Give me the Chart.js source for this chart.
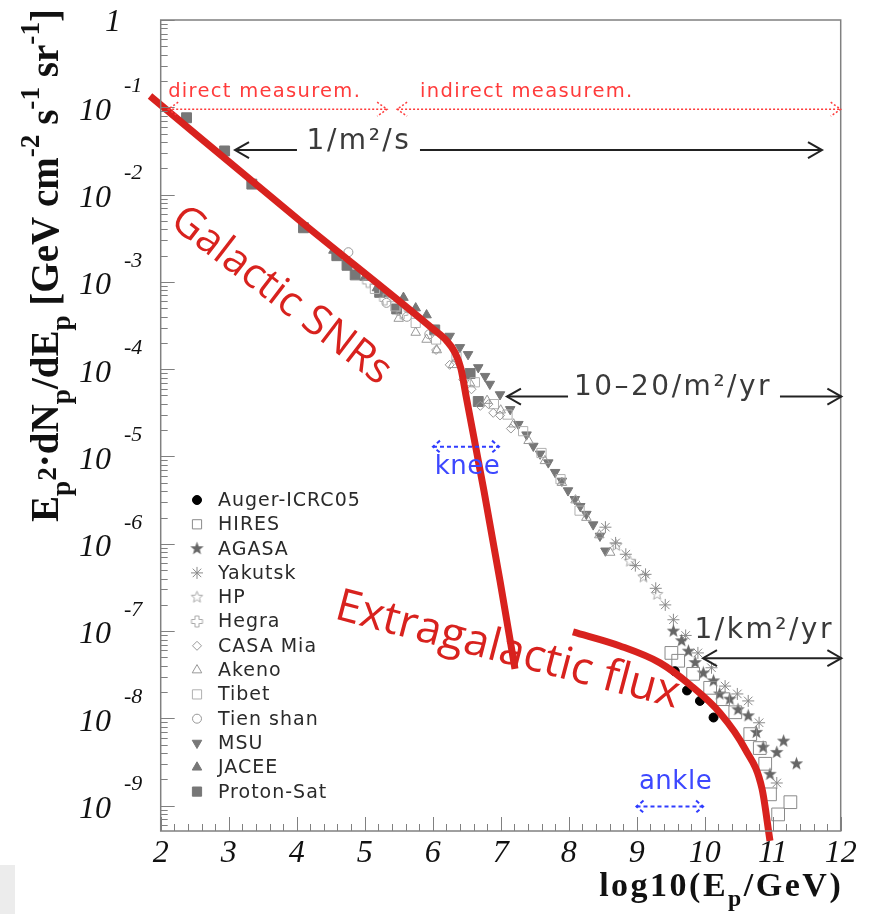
<!DOCTYPE html>
<html>
<head>
<meta charset="utf-8">
<title>Cosmic ray spectrum</title>
<script src="https://cdn.jsdelivr.net/npm/chart.js@4.4.1/dist/chart.umd.min.js"></script>
<style>
html, body { margin: 0; padding: 0; background: #fff; }
</style>
</head>
<body>
<canvas id="spectrum" width="871" height="914"></canvas>
<script>
// x = log10(E/GeV), flux arrays hold log10 of E^2 dN/dE [GeV cm^-2 s^-1 sr^-1]

const augerE = [9.56, 9.74, 9.93, 10.13];
const augerF = [-7.46, -7.68, -7.80, -7.99];

const hiresE = [9.51, 9.61, 9.83, 10.08, 10.27, 10.45, 10.67, 10.81, 10.89, 10.96, 11.26, 11.08];
const hiresF = [-7.25, -7.34, -7.49, -7.65, -7.78, -7.93, -8.18, -8.34, -8.52, -8.87, -8.96, -9.10];

const agasaE = [9.54, 9.66, 9.76, 9.86, 9.98, 10.13, 10.22, 10.37, 10.49, 10.64, 10.76, 10.86, 11.16, 11.06, 11.35, 10.96];
const agasaF = [-7.00, -7.11, -7.23, -7.36, -7.48, -7.57, -7.72, -7.78, -7.90, -7.97, -8.16, -8.33, -8.26, -8.39, -8.52, -8.64];

const yakutskE = [8.54, 8.69, 8.84, 8.98, 9.13, 9.28, 9.42, 9.54, 9.72, 9.90, 10.10, 10.30, 10.48, 10.64, 10.80, 11.06];
const yakutskF = [-5.81, -5.99, -6.12, -6.25, -6.35, -6.51, -6.70, -6.87, -7.05, -7.25, -7.42, -7.63, -7.72, -7.80, -8.05, -8.74];

const hpE = [8.70, 8.90, 9.10, 9.30];
const hpF = [-6.02, -6.20, -6.38, -6.58];

const hegraE = [5.05, 5.30, 5.55];
const hegraF = [-3.00, -3.20, -3.36];

const casaE = [6.05, 6.25, 6.45, 6.57, 6.70, 6.82, 6.89, 6.99, 7.15];
const casaF = [-3.78, -3.95, -4.12, -4.23, -4.42, -4.40, -4.50, -4.53, -4.68];

const akenoE = [5.50, 5.75, 5.91, 6.06, 6.30, 6.55, 6.80, 7.00, 7.19, 7.41, 7.65, 7.90, 8.10, 8.26, 8.45, 8.61];
const akenoF = [-3.42, -3.58, -3.66, -3.78, -3.95, -4.16, -4.36, -4.47, -4.63, -4.82, -5.05, -5.30, -5.50, -5.70, -5.90, -6.10];

const tibetE = [5.15, 5.45, 5.75, 6.05, 6.35, 6.62, 6.90, 7.10, 7.33, 7.60, 7.88, 8.16];
const tibetF = [-3.08, -3.28, -3.47, -3.66, -3.86, -4.15, -4.40, -4.52, -4.71, -4.96, -5.26, -5.62];

const tienShanE = [4.76, 5.32, 5.62, 5.95];
const tienShanF = [-2.66, -3.24, -3.40, -3.60];

const msuE = [6.25, 6.40, 6.52, 6.67, 6.77, 6.84, 6.99, 7.14, 7.26, 7.38, 7.48, 7.58, 7.70, 7.80, 7.90, 7.99, 8.09, 8.17, 8.26, 8.36, 8.46, 8.54];
const msuF = [-3.62, -3.75, -3.83, -3.98, -4.08, -4.17, -4.29, -4.46, -4.63, -4.75, -4.88, -4.97, -5.07, -5.18, -5.28, -5.39, -5.49, -5.57, -5.66, -5.78, -5.91, -6.08];

const jaceeE = [4.54, 4.76, 5.00, 5.18, 5.35, 5.57, 5.75, 5.91];
const jaceeF = [-2.64, -2.79, -2.95, -3.07, -3.14, -3.18, -3.30, -3.38];

const protonSatE = [2.38, 2.94, 3.34, 4.10, 4.59, 4.74, 4.86, 5.22, 5.47, 6.03, 6.55, 6.67];
const protonSatF = [-1.12, -1.50, -1.88, -2.38, -2.70, -2.81, -2.92, -3.12, -3.31, -3.55, -4.05, -4.37];

// model curves
const galacticE = [1.843, 4.049, 6.009, 6.206, 6.328, 6.416, 6.49, 6.754, 6.99, 7.21];
const galacticF = [-0.870, -2.301, -3.542, -3.676, -3.810, -3.997, -4.306, -5.394, -6.425, -7.433];

const extraE = [8.063, 8.754, 9.343, 9.784, 10.225, 10.593, 10.843, 10.960];
const extraF = [-7.009, -7.170, -7.364, -7.616, -7.937, -8.349, -8.807, -9.403];

// axes
const xTickValues = [2, 3, 4, 5, 6, 7, 8, 9, 10, 11, 12];
const xTickLabels = ['2', '3', '4', '5', '6', '7', '8', '9', '10', '11', '12'];
const yDecades = [-1, -2, -3, -4, -5, -6, -7, -8, -9];
const yMinExp = -9.29;

const legendNames = ['Auger-ICRC05', 'HIRES', 'AGASA', 'Yakutsk', 'HP', 'Hegra', 'CASA Mia',
  'Akeno', 'Tibet', 'Tien shan', 'MSU', 'JACEE', 'Proton-Sat'];

function pts(es, fs) {
  return es.map((e, i) => ({ x: e, y: Math.pow(10, fs[i]) }));
}

function markCanvas(size, paint) {
  const c = document.createElement('canvas');
  c.width = c.height = size;
  paint(c.getContext('2d'), size / 2);
  return c;
}
function starPath(g, c, ro, ri) {
  g.beginPath();
  for (let k = 0; k < 10; k++) {
    const r = k % 2 ? ri : ro;
    const a = -Math.PI / 2 + k * Math.PI / 5;
    g.lineTo(c + r * Math.cos(a), c + r * Math.sin(a));
  }
  g.closePath();
}
const agasaMark = markCanvas(15, (g, c) => {
  starPath(g, c, 7, 2.9);
  g.fillStyle = '#666';
  g.fill();
});
const hpMark = markCanvas(15, (g, c) => {
  starPath(g, c, 6, 2.6);
  g.strokeStyle = '#aaa';
  g.lineWidth = 1;
  g.stroke();
});
const hegraMark = markCanvas(15, (g, c) => {
  const a = 2, b = 5.5;
  g.beginPath();
  g.moveTo(c - a, c - b); g.lineTo(c + a, c - b); g.lineTo(c + a, c - a);
  g.lineTo(c + b, c - a); g.lineTo(c + b, c + a); g.lineTo(c + a, c + a);
  g.lineTo(c + a, c + b); g.lineTo(c - a, c + b); g.lineTo(c - a, c + a);
  g.lineTo(c - b, c + a); g.lineTo(c - b, c - a); g.lineTo(c - a, c - a);
  g.closePath();
  g.strokeStyle = '#aaa';
  g.lineWidth = 1;
  g.stroke();
});

const NONE = 'rgba(0,0,0,0)';
function marks(label, es, fs, style) {
  return Object.assign({
    label: label,
    data: pts(es, fs),
    order: 1,
    borderWidth: 1,
    pointHoverRadius: 0
  }, style);
}

const dataSets = [
  marks('Auger-ICRC05', augerE, augerF, { pointStyle: 'circle', pointRadius: 4.5, backgroundColor: '#000', borderColor: '#000' }),
  marks('HIRES', hiresE, hiresF, { pointStyle: 'rect', pointRadius: 9, backgroundColor: NONE, borderColor: '#8a8a8a' }),
  marks('AGASA', agasaE, agasaF, { pointStyle: agasaMark, pointRadius: 7, backgroundColor: '#666', borderColor: '#666' }),
  marks('Yakutsk', yakutskE, yakutskF, { pointStyle: 'star', pointRadius: 6, backgroundColor: NONE, borderColor: '#8a8a8a' }),
  marks('HP', hpE, hpF, { pointStyle: hpMark, pointRadius: 6, backgroundColor: NONE, borderColor: '#aaa' }),
  marks('Hegra', hegraE, hegraF, { pointStyle: hegraMark, pointRadius: 6, backgroundColor: NONE, borderColor: '#aaa' }),
  marks('CASA Mia', casaE, casaF, { pointStyle: 'rectRot', pointRadius: 4.5, backgroundColor: NONE, borderColor: '#999' }),
  marks('Akeno', akenoE, akenoF, { pointStyle: 'triangle', pointRadius: 5.5, backgroundColor: NONE, borderColor: '#999' }),
  marks('Tibet', tibetE, tibetF, { pointStyle: 'rect', pointRadius: 6.5, backgroundColor: NONE, borderColor: '#b0b0b0' }),
  marks('Tien shan', tienShanE, tienShanF, { pointStyle: 'circle', pointRadius: 4.5, backgroundColor: NONE, borderColor: '#999' }),
  marks('MSU', msuE, msuF, { pointStyle: 'triangle', rotation: 180, pointRadius: 5.5, backgroundColor: '#777', borderColor: '#777' }),
  marks('JACEE', jaceeE, jaceeF, { pointStyle: 'triangle', pointRadius: 5.5, backgroundColor: '#777', borderColor: '#777' }),
  marks('Proton-Sat', protonSatE, protonSatF, { pointStyle: 'rect', pointRadius: 7, backgroundColor: '#777', borderColor: '#777' })
];

const RED = '#d8221e';
const curveSets = [
  { type: 'line', label: 'Galactic SNRs', data: pts(galacticE, galacticF), borderColor: RED, borderWidth: 7,
    pointRadius: 0, cubicInterpolationMode: 'monotone', clip: false, order: 0, borderCapStyle: 'butt' },
  { type: 'line', label: 'Extragalactic flux', data: pts(extraE, extraF), borderColor: RED, borderWidth: 7,
    pointRadius: 0, cubicInterpolationMode: 'monotone', clip: false, order: 0, borderCapStyle: 'butt' }
];

// annotations, placed in data coordinates (x, log10 flux)
const rateArrows = [
  { text: '1/m²/s', y: -1.49, from: 3.093, to: 11.725, gap: [4.004, 5.813], tx: 4.916, ty: -1.40 },
  { text: '10–20/m²/yr', y: -4.314, from: 7.092, to: 12.01, gap: [7.99, 11.107], tx: 9.534, ty: -4.214 },
  { text: '1/km²/yr', y: -7.31, from: 9.975, to: 12.01, gap: null, tx: 10.875, ty: -6.998 }
];
const regionArrows = [
  { text: 'direct measurem.', y: -1.022, from: 2.11, to: 5.33, tx: 2.11, ty: -0.824 },
  { text: 'indirect measurem.', y: -1.022, from: 5.476, to: 12.0, tx: 5.815, ty: -0.824 }
];
const featureMarks = [
  { text: 'knee', y: -4.887, from: 6.004, to: 6.975, tx: 6.512, ty: -5.127 },
  { text: 'ankle', y: -9.010, from: 8.997, to: 9.976, tx: 9.571, ty: -8.735 }
];
const curveLabels = [
  { text: 'Galactic SNRs', x: 3.77, y: -3.16, angle: 37.5, size: 42 },
  { text: 'Extragalactic flux', x: 7.10, y: -7.226, angle: 14.7, size: 45 }
];

const SERIF = '"Liberation Serif", "DejaVu Serif", serif';
const SANS = '"DejaVu Sans", sans-serif';

function px(chart, e, f) {
  return [chart.scales.x.getPixelForValue(e), chart.scales.y.getPixelForValue(Math.pow(10, f))];
}

function head(ctx, tx, ty, dir, len, half) {
  ctx.beginPath();
  ctx.moveTo(tx - dir * len, ty - half);
  ctx.lineTo(tx, ty);
  ctx.lineTo(tx - dir * len, ty + half);
  ctx.stroke();
}

function richRun(ctx, parts, base, weight, measureOnly) {
  let cx = 0;
  for (const [t, s, sh] of parts) {
    ctx.font = `${weight} ${base * s}px ${SERIF}`;
    if (!measureOnly) ctx.fillText(t, cx, -sh * base);
    cx += ctx.measureText(t).width;
  }
  return cx;
}

const axesPlugin = {
  id: 'axesPlugin',
  beforeDraw(chart) {
    const ctx = chart.ctx;
    ctx.save();
    ctx.fillStyle = '#fff';
    ctx.fillRect(0, 0, chart.width, chart.height);
    ctx.fillStyle = '#ececec';
    ctx.fillRect(0, 865, 15, 49);
    ctx.restore();
  },
  afterDraw(chart) {
    const ctx = chart.ctx;
    const a = chart.chartArea;
    const xs = chart.scales.x, ys = chart.scales.y;
    ctx.save();

    // frame
    ctx.strokeStyle = '#808080';
    ctx.lineWidth = 1.5;
    ctx.strokeRect(a.left, a.top, a.right - a.left, a.bottom - a.top);

    // x ticks, pointing inward
    ctx.lineWidth = 1;
    for (let k = 0; k <= 50; k++) {
      const p = Math.round(xs.getPixelForValue(2 + k * 0.2)) + 0.5;
      ctx.beginPath();
      ctx.moveTo(p, a.bottom);
      ctx.lineTo(p, a.bottom - (k % 5 === 0 ? 14 : 7));
      ctx.stroke();
    }
    // y ticks, log minors
    for (let e = -10; e <= 0; e++) {
      for (let m = 1; m <= 9; m++) {
        const v = m * Math.pow(10, e);
        if (v < ys.min || v > ys.max) continue;
        const p = Math.round(ys.getPixelForValue(v)) + 0.5;
        ctx.beginPath();
        ctx.moveTo(a.left, p);
        ctx.lineTo(a.left + (m === 1 ? 14 : 7), p);
        ctx.stroke();
      }
    }

    // tick labels
    ctx.fillStyle = '#111';
    ctx.textBaseline = 'middle';
    ctx.textAlign = 'center';
    ctx.font = `italic 32px ${SERIF}`;
    xTickValues.forEach((v, i) => {
      ctx.fillText(xTickLabels[i], xs.getPixelForValue(v), a.bottom + 23);
    });
    ctx.textAlign = 'right';
    ctx.fillText('1', 121, ys.getPixelForValue(1) + 3);
    yDecades.forEach(d => {
      const p = ys.getPixelForValue(Math.pow(10, d));
      ctx.textAlign = 'right';
      ctx.font = `italic 32px ${SERIF}`;
      ctx.fillText('10', 111, p + 4);
      ctx.textAlign = 'left';
      ctx.font = `italic 22px ${SERIF}`;
      ctx.fillText('-' + (-d), 124, p - 21);
    });

    // axis titles
    ctx.textBaseline = 'alphabetic';
    ctx.textAlign = 'left';
    ctx.letterSpacing = '2.5px';
    const xt = [['log10(E', 1, 0], ['p', 0.7, -0.3], ['/GeV)', 1, 0]];
    const xw = richRun(ctx, xt, 34, 'bold', true);
    ctx.save();
    ctx.translate(a.right - xw + 2.5, 896);
    richRun(ctx, xt, 34, 'bold', false);
    ctx.restore();
    ctx.letterSpacing = '0px';

    const yt = [['E', 1, 0], ['p', 0.7, -0.3], ['2', 0.7, 0.05], ['·dN', 1, 0], ['p', 0.7, -0.3],
      ['/dE', 1, 0], ['p', 0.7, -0.3], [' [GeV cm', 1, 0], ['-2', 0.7, 0.5], [' s', 1, 0],
      ['-1', 0.7, 0.5], [' sr', 1, 0], ['-1', 0.7, 0.5], [']', 1, 0]];
    ctx.save();
    ctx.translate(58, 522);
    ctx.rotate(-Math.PI / 2);
    richRun(ctx, yt, 39, 'bold', false);
    ctx.restore();

    // legend, reusing the dataset marker styles
    const rowY0 = 500, rowStep = 24.3;
    ctx.letterSpacing = '1px';
    legendNames.forEach((name, i) => {
      const ds = dataSets[i];
      const y = rowY0 + i * rowStep;
      ctx.fillStyle = ds.backgroundColor;
      ctx.strokeStyle = ds.borderColor;
      ctx.lineWidth = 1;
      Chart.helpers.drawPoint(ctx, {
        pointStyle: ds.pointStyle, rotation: ds.rotation || 0,
        radius: Math.min(ds.pointRadius, 6.5), borderWidth: 1
      }, 197, y);
      ctx.fillStyle = '#2a2a2a';
      ctx.font = `19px ${SANS}`;
      ctx.textAlign = 'left';
      ctx.textBaseline = 'middle';
      ctx.fillText(name, 218, y + 1);
    });

    // flux level arrows
    ctx.strokeStyle = '#222';
    ctx.fillStyle = '#3a3a3a';
    ctx.lineWidth = 2;
    ctx.font = `28px ${SANS}`;
    ctx.letterSpacing = '2.5px';
    ctx.textAlign = 'center';
    ctx.textBaseline = 'middle';
    rateArrows.forEach(r => {
      const [x0, y0] = px(chart, r.from, r.y);
      const [x1] = px(chart, r.to, r.y);
      ctx.beginPath();
      if (r.gap) {
        const [g0] = px(chart, r.gap[0], r.y);
        const [g1] = px(chart, r.gap[1], r.y);
        ctx.moveTo(x0, y0); ctx.lineTo(g0, y0);
        ctx.moveTo(g1, y0); ctx.lineTo(x1, y0);
      } else {
        ctx.moveTo(x0, y0); ctx.lineTo(x1, y0);
      }
      ctx.stroke();
      head(ctx, x0, y0, -1, 14, 8);
      head(ctx, x1, y0, 1, 14, 8);
      const [tx, ty] = px(chart, r.tx, r.ty);
      ctx.fillText(r.text, tx, ty);
    });

    // measurement regions, dotted red
    ctx.strokeStyle = '#ff3b3b';
    ctx.fillStyle = '#ff3b3b';
    ctx.lineWidth = 1.5;
    ctx.setLineDash([2, 2]);
    ctx.font = `19.5px ${SANS}`;
    ctx.letterSpacing = '1.3px';
    ctx.textAlign = 'left';
    regionArrows.forEach(r => {
      const [x0, y0] = px(chart, r.from, r.y);
      const [x1] = px(chart, r.to, r.y);
      ctx.beginPath();
      ctx.moveTo(x0, y0); ctx.lineTo(x1, y0);
      ctx.stroke();
      head(ctx, x0, y0, -1, 10, 7);
      head(ctx, x1, y0, 1, 10, 7);
      const [tx, ty] = px(chart, r.tx, r.ty);
      ctx.fillText(r.text, tx, ty);
    });

    // knee and ankle
    ctx.strokeStyle = '#2f3cff';
    ctx.fillStyle = '#3d48ff';
    ctx.lineWidth = 2;
    ctx.setLineDash([4, 3]);
    ctx.font = `26px ${SANS}`;
    ctx.letterSpacing = '0.5px';
    ctx.textAlign = 'center';
    featureMarks.forEach(r => {
      const [x0, y0] = px(chart, r.from, r.y);
      const [x1] = px(chart, r.to, r.y);
      ctx.beginPath();
      ctx.moveTo(x0, y0); ctx.lineTo(x1, y0);
      ctx.stroke();
      head(ctx, x0, y0, -1, 7, 6);
      head(ctx, x1, y0, 1, 7, 6);
      const [tx, ty] = px(chart, r.tx, r.ty);
      ctx.fillText(r.text, tx, ty);
    });
    ctx.setLineDash([]);
    ctx.letterSpacing = '0px';

    // curve labels
    ctx.fillStyle = RED;
    ctx.textAlign = 'center';
    ctx.textBaseline = 'middle';
    curveLabels.forEach(c => {
      const [cx, cy] = px(chart, c.x, c.y);
      ctx.font = `${c.size}px "Open Sans", sans-serif`;
      ctx.save();
      ctx.translate(cx, cy);
      ctx.rotate(c.angle * Math.PI / 180);
      ctx.fillText(c.text, 0, 0);
      ctx.restore();
    });

    ctx.restore();
  }
};

new Chart(document.getElementById('spectrum'), {
  type: 'scatter',
  data: { datasets: curveSets.concat(dataSets) },
  options: {
    responsive: false,
    animation: false,
    devicePixelRatio: 1,
    events: [],
    layout: { padding: { left: 160.7, right: 30.3, top: 20, bottom: 83 } },
    scales: {
      x: { type: 'linear', min: 2, max: 12, display: false },
      y: { type: 'logarithmic', min: Math.pow(10, yMinExp), max: 1, display: false }
    },
    plugins: { legend: { display: false }, tooltip: { enabled: false } }
  },
  plugins: [axesPlugin]
});
</script>
</body>
</html>
